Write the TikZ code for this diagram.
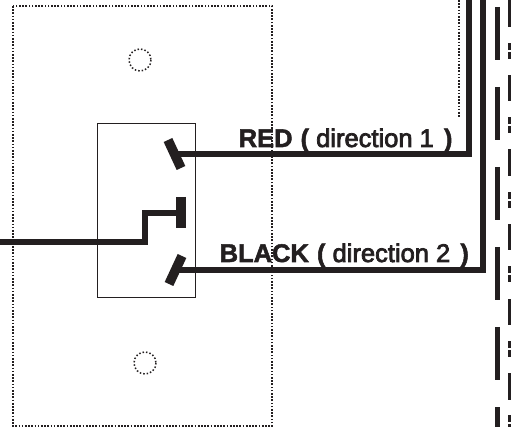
\documentclass[tikz,border=0pt]{standalone}
\usepackage{fontspec}
\setmainfont{Liberation Sans}
\newfontfamily\heavyfont[FakeBold=3]{Liberation Sans}
\newfontfamily\heavybold[FakeBold=2]{Liberation Sans Bold}
\definecolor{ink}{HTML}{231F20}
\tikzset{
  wire/.style={draw=ink,line width=5.3pt,line cap=butt,line join=miter},
  contact/.style={draw=ink,line width=9.5pt,line cap=butt},
  dotline/.style={draw=ink,line width=1.7pt,dash pattern=on 1.7pt off 1.5pt},
  holeline/.style={draw=ink,line width=1.5pt,dash pattern=on 1.5pt off 2pt},
  thinbox/.style={draw=ink,line width=0.9pt},
  seg/.style={draw=ink,line width=5pt},
  lab/.style={inner sep=0pt,anchor=base west,text=ink,font=\fontsize{25.5}{25.5}\selectfont}
}
\newcommand{\labB}[1]{{\heavybold #1}}
\newcommand{\labR}[1]{{\heavyfont #1}}
\begin{document}
\begin{tikzpicture}[x=1pt,y=-1pt]
\useasboundingbox (0,0) rectangle (511,427);
\fill[white] (0,0) rectangle (511,427);
% wall plate
\draw[dotline] (13,6) rectangle (272,426);
\draw[holeline] (140,60) circle (11);
\draw[holeline] (145,363) circle (11);
% switch body
\draw[thinbox] (97.5,123) rectangle (195,297);
% contacts
\coordinate (redA) at (168,140);
\coordinate (redB) at (181,168);
\coordinate (midA) at (181,197);
\coordinate (midB) at (181,228);
\coordinate (blkA) at (182,256);
\coordinate (blkB) at (169,284);
\draw[contact] (redA) -- (redB);
\draw[contact] (midA) -- (midB);
\draw[contact] (blkA) -- (blkB);
% wires
\coordinate (common) at (0,242);
\coordinate (redIn) at (177,154);
\coordinate (redC) at (469,154);
\coordinate (redTop) at (469,0);
\coordinate (blkIn) at (178,270);
\coordinate (blkC) at (483,270);
\coordinate (blkTop) at (483,0);
\draw[wire] (common) -- (145,242) -- (145,213) -- (181,213);
\draw[wire] (redIn) -- (redC) -- (redTop);
\draw[wire] (blkIn) -- (blkC) -- (blkTop);
% dotted vertical
\coordinate (dotTop) at (459,0);
\coordinate (dotEnd) at (459,117);
\draw[dotline] (dotTop) -- (dotEnd);
% dashed conduit
\foreach \y in {7,87,167,247,327,407}
  \draw[seg] (497,\y) -- (497,\y+53);
\foreach \y in {0.5,75,149.5,224,299,373}
  \draw[seg] (510.5,\y) -- (510.5,\y+26.5);
\foreach \y in {43,117,192,266,341,415}{
  \fill[ink] (508,\y) rectangle (511,\y+7);
  \fill[ink] (508,\y+9) rectangle (511,\y+16);
}
% labels
\node[lab] (redlabel) at (238.5,147) {\labB{RED}\hspace{1pt}\labB{ ( }\labR{direction}\labR{ 1 }\hspace{3pt}\labB{)}};
\node[lab] (blklabel) at (219.5,262) {\labB{BLACK}\hspace{1pt}\labB{ ( }\labR{direction}\labR{ 2 }\hspace{3pt}\labB{)}};
\end{tikzpicture}
\end{document}
